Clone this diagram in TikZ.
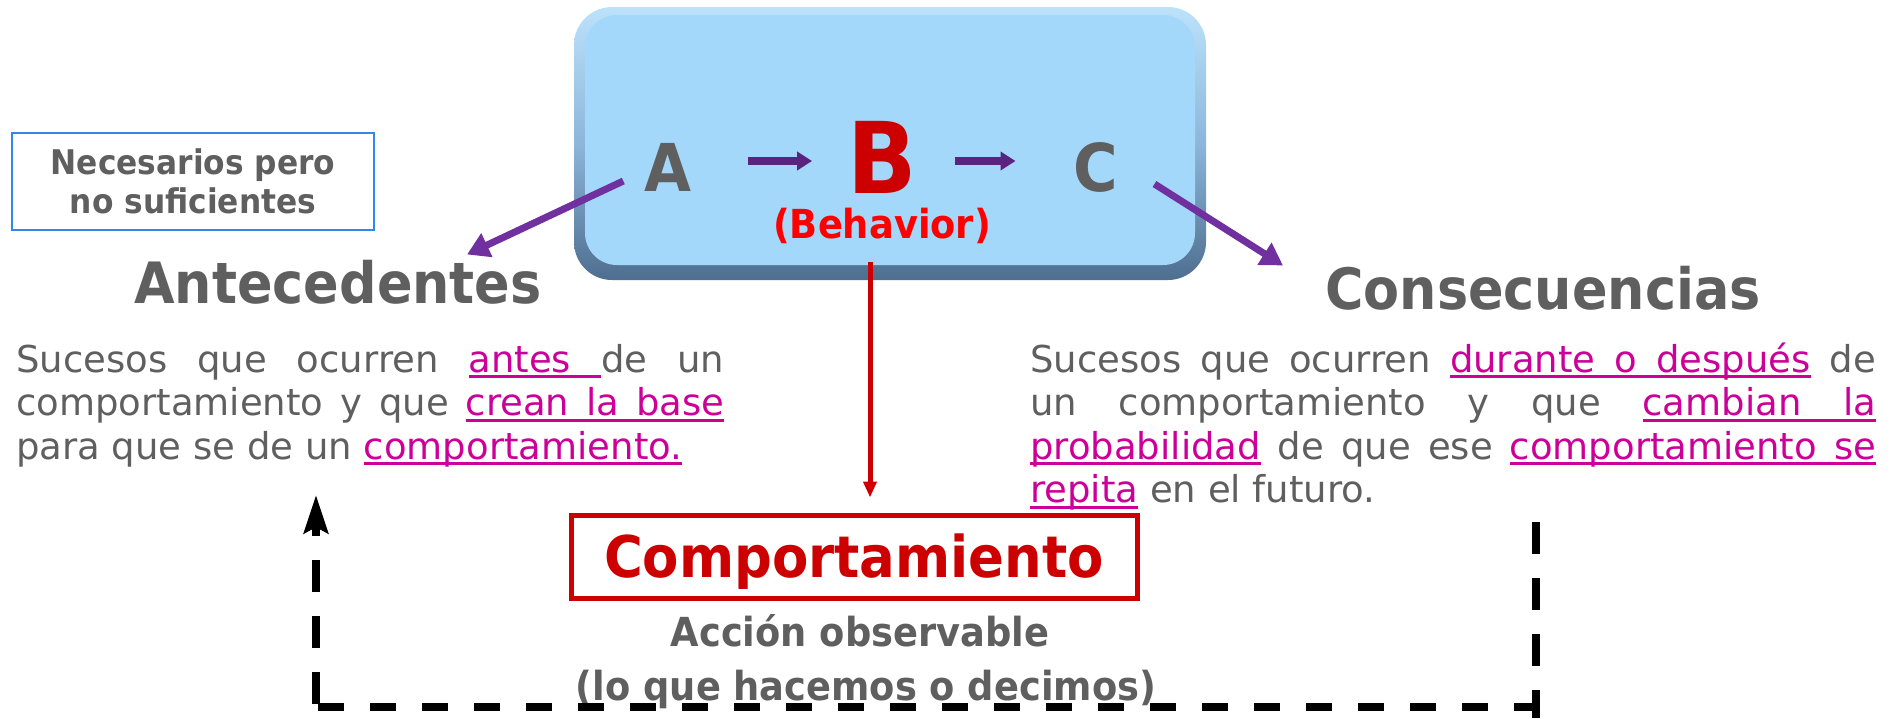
\documentclass[tikz,border=0pt]{standalone}
\usepackage{fontspec}
\setmainfont{DejaVu Sans}
\newfontfamily\bfont[FakeStretch=0.92]{DejaVu Sans Bold}
\usetikzlibrary{arrows.meta,calc}
\definecolor{txtgray}{HTML}{5F5F5F}
\definecolor{mag}{HTML}{CC0099}
\definecolor{purp}{HTML}{7030A0}
\definecolor{dpurp}{HTML}{5B2380}
\definecolor{dred}{HTML}{CC0000}
\definecolor{bred}{HTML}{FF0000}
\definecolor{facecol}{HTML}{A4D8FA}
\definecolor{rimtop}{HTML}{BCE2FB}
\definecolor{rimmid}{HTML}{8CB6DA}
\definecolor{rimbot}{HTML}{4E6E8F}
\definecolor{nbord}{HTML}{3385F0}
\newcommand\ulw[1]{{\color{mag}\setbox0\hbox{#1}\rlap{\rule[-6pt]{\wd0}{2.6pt}}\box0}}
\newcommand\uls{{\color{mag}\leaders\hrule height -3.4pt depth 6pt\hskip\fontdimen2\font plus\fontdimen3\font minus\fontdimen4\font}}
\begin{document}
\begin{tikzpicture}[x=1pt,y=-1pt,
  bodyline/.style={anchor=base west, inner sep=0pt, text=txtgray, font=\fontsize{37}{43}\selectfont},
  title/.style={inner sep=0pt, anchor=base, text=txtgray, font=\bfont\fontsize{57}{60}\selectfont},
  letter/.style={inner sep=0pt, text=txtgray, font=\bfont\fontsize{66}{70}\selectfont},
  smallarrow/.style={draw=dpurp, line width=8pt, -{Triangle[length=15pt,width=18pt]}},
  diagarrow/.style={draw=purp, line width=7pt, -{Triangle[length=22pt,width=25pt]}},
  redarrow/.style={draw=dred, line width=5pt, -{Triangle[length=16pt,width=13pt]}},
  vloop/.style={draw=black, line width=8pt, dash pattern=on 32pt off 24pt},
  hloop/.style={draw=black, line width=8pt, dash pattern=on 26pt off 26pt}]
\useasboundingbox (0,0) rectangle (1894,718);
% blue 3D box
\node[minimum width=632pt, minimum height=273pt, rounded corners=38pt, inner sep=0pt,
      top color=rimtop, bottom color=rimbot, middle color=rimmid, draw=none] (box) at (890,143.5) {};
\node[minimum width=610pt, minimum height=250pt, rounded corners=32pt, inner sep=0pt,
      fill=facecol, draw=none] (face) at (890,140) {};
% letters
\node[letter] (A) at (668,167) {A};
\node[letter, text=dred, font=\bfont\fontsize{99}{100}\selectfont] (B) at (882,157) {B};
\node[letter] (C) at (1096,167) {C};
\node[title, text=bred, font=\bfont\fontsize{40}{42}\selectfont] (beh) at (882,238) {(Behavior)};
\draw[smallarrow] ($(A.east)+(56,-6)$) -- ($(B.west)+(-35,4)$);
\draw[smallarrow] ($(B.east)+(38,4)$) -- ($(C.west)+(-58,-6)$);
% side box
\node[draw=nbord, line width=2pt, minimum width=362pt, minimum height=97pt, align=center,
      text=txtgray, font=\bfont\fontsize{34}{39}\selectfont] (nec) at (193,181.5) {Necesarios pero\\no suficientes};
% titles
\node[title] (ante) at (338,303) {Antecedentes};
\node[title] (cons) at (1543,309) {Consecuencias};
\draw[diagarrow] ($(A.west)+(-21,14)$) -- ($(ante.north)+(129,-5)$);
\draw[diagarrow] ($(C.east)+(36,17)$) -- ($(cons.north west)+(-42,0)$);
% paragraphs
\node[bodyline] (l1) at (16,372) {\makebox[708pt][s]{Sucesos que ocurren \ulw{antes}\uls de un}};
\node[bodyline] (l2) at (16,415.5) {\makebox[708pt][s]{comportamiento y que \ulw{crean}\uls\ulw{la}\uls\ulw{base}}};
\node[bodyline] (l3) at (16,459) {para que se de un \ulw{comportamiento.}};
\node[bodyline] (r1) at (1030,372) {\makebox[846pt][s]{Sucesos que ocurren \ulw{durante}\uls\ulw{o}\uls\ulw{después} de}};
\node[bodyline] (r2) at (1030,415.5) {\makebox[846pt][s]{un comportamiento y que \ulw{cambian}\uls\ulw{la}}};
\node[bodyline] (r3) at (1030,459) {\makebox[846pt][s]{\ulw{probabilidad} de que ese \ulw{comportamiento}\uls\ulw{se}}};
\node[bodyline] (r4) at (1030,502.5) {\ulw{repita} en el futuro.};
% behaviour box
\node[draw=dred, line width=5pt, minimum width=566pt, minimum height=83pt, inner sep=0pt,
      text=dred, font=\bfont\fontsize{57.5}{60}\selectfont, text height=42pt, text depth=0pt] (comp) at (854,556.5) {Comportamiento};
\draw[redarrow] ($(beh.south)+(-12,19)$) -- ($(comp.north)+(16,-15)$);
\node[title, font=\bfont\fontsize{40}{42}\selectfont] (acc) at (860,646) {Acción observable};
\node[title, font=\bfont\fontsize{40}{42}\selectfont] (lo) at (866,700) {(lo que hacemos o decimos)};
% dashed loop
\coordinate (q1) at (1536,522);
\coordinate (q2) at (1536,718);
\coordinate (q3) at (1540,707);
\coordinate (q4) at (316,707);
\coordinate (q5) at (316,704);
\coordinate (q6) at (316,495);
\draw[vloop] (q1) -- (q2);
\draw[hloop] (q3) -- (q4);
\draw[vloop, -{Stealth[length=38pt,width=24pt,inset=6pt]}] (q5) -- (q6);
\end{tikzpicture}
\end{document}
